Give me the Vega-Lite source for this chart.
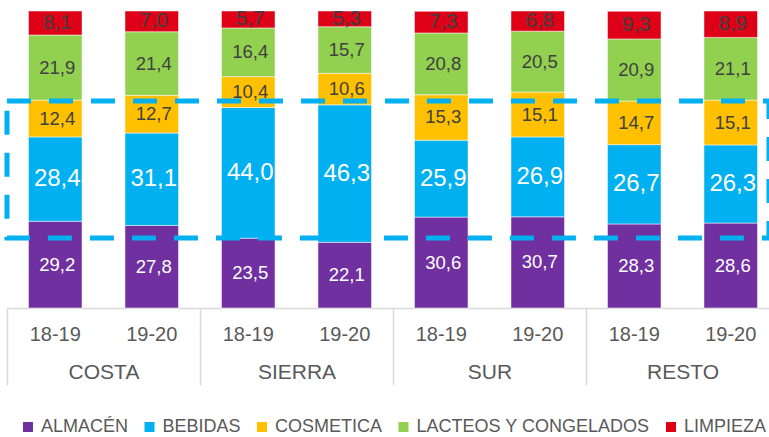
{
  "$schema": "https://vega.github.io/schema/vega-lite/v6.json",
  "width": 762,
  "height": 297,
  "autosize": {"type": "none"},
  "padding": {"left": 7, "top": 11, "right": 0, "bottom": 129},
  "background": "white",
  "config": {
    "view": {"stroke": null},
    "font": "Liberation Sans",
    "locale": {"number": {"decimal": ",", "thousands": ".", "grouping": [3], "currency": ["", " €"]}}
  },
  "datasets": {
    "d": [
      {"region": "COSTA", "period": "18-19", "key": "COSTA 18-19", "cat": "ALMACÉN", "v": 29.2},
      {"region": "COSTA", "period": "18-19", "key": "COSTA 18-19", "cat": "BEBIDAS", "v": 28.4},
      {"region": "COSTA", "period": "18-19", "key": "COSTA 18-19", "cat": "COSMETICA", "v": 12.4},
      {"region": "COSTA", "period": "18-19", "key": "COSTA 18-19", "cat": "LACTEOS Y CONGELADOS", "v": 21.9},
      {"region": "COSTA", "period": "18-19", "key": "COSTA 18-19", "cat": "LIMPIEZA", "v": 8.1},
      {"region": "COSTA", "period": "19-20", "key": "COSTA 19-20", "cat": "ALMACÉN", "v": 27.8},
      {"region": "COSTA", "period": "19-20", "key": "COSTA 19-20", "cat": "BEBIDAS", "v": 31.1},
      {"region": "COSTA", "period": "19-20", "key": "COSTA 19-20", "cat": "COSMETICA", "v": 12.7},
      {"region": "COSTA", "period": "19-20", "key": "COSTA 19-20", "cat": "LACTEOS Y CONGELADOS", "v": 21.4},
      {"region": "COSTA", "period": "19-20", "key": "COSTA 19-20", "cat": "LIMPIEZA", "v": 7.0},
      {"region": "SIERRA", "period": "18-19", "key": "SIERRA 18-19", "cat": "ALMACÉN", "v": 23.5},
      {"region": "SIERRA", "period": "18-19", "key": "SIERRA 18-19", "cat": "BEBIDAS", "v": 44.0},
      {"region": "SIERRA", "period": "18-19", "key": "SIERRA 18-19", "cat": "COSMETICA", "v": 10.4},
      {"region": "SIERRA", "period": "18-19", "key": "SIERRA 18-19", "cat": "LACTEOS Y CONGELADOS", "v": 16.4},
      {"region": "SIERRA", "period": "18-19", "key": "SIERRA 18-19", "cat": "LIMPIEZA", "v": 5.7},
      {"region": "SIERRA", "period": "19-20", "key": "SIERRA 19-20", "cat": "ALMACÉN", "v": 22.1},
      {"region": "SIERRA", "period": "19-20", "key": "SIERRA 19-20", "cat": "BEBIDAS", "v": 46.3},
      {"region": "SIERRA", "period": "19-20", "key": "SIERRA 19-20", "cat": "COSMETICA", "v": 10.6},
      {"region": "SIERRA", "period": "19-20", "key": "SIERRA 19-20", "cat": "LACTEOS Y CONGELADOS", "v": 15.7},
      {"region": "SIERRA", "period": "19-20", "key": "SIERRA 19-20", "cat": "LIMPIEZA", "v": 5.3},
      {"region": "SUR", "period": "18-19", "key": "SUR 18-19", "cat": "ALMACÉN", "v": 30.6},
      {"region": "SUR", "period": "18-19", "key": "SUR 18-19", "cat": "BEBIDAS", "v": 25.9},
      {"region": "SUR", "period": "18-19", "key": "SUR 18-19", "cat": "COSMETICA", "v": 15.3},
      {"region": "SUR", "period": "18-19", "key": "SUR 18-19", "cat": "LACTEOS Y CONGELADOS", "v": 20.8},
      {"region": "SUR", "period": "18-19", "key": "SUR 18-19", "cat": "LIMPIEZA", "v": 7.3},
      {"region": "SUR", "period": "19-20", "key": "SUR 19-20", "cat": "ALMACÉN", "v": 30.7},
      {"region": "SUR", "period": "19-20", "key": "SUR 19-20", "cat": "BEBIDAS", "v": 26.9},
      {"region": "SUR", "period": "19-20", "key": "SUR 19-20", "cat": "COSMETICA", "v": 15.1},
      {"region": "SUR", "period": "19-20", "key": "SUR 19-20", "cat": "LACTEOS Y CONGELADOS", "v": 20.5},
      {"region": "SUR", "period": "19-20", "key": "SUR 19-20", "cat": "LIMPIEZA", "v": 6.8},
      {"region": "RESTO", "period": "18-19", "key": "RESTO 18-19", "cat": "ALMACÉN", "v": 28.3},
      {"region": "RESTO", "period": "18-19", "key": "RESTO 18-19", "cat": "BEBIDAS", "v": 26.7},
      {"region": "RESTO", "period": "18-19", "key": "RESTO 18-19", "cat": "COSMETICA", "v": 14.7},
      {"region": "RESTO", "period": "18-19", "key": "RESTO 18-19", "cat": "LACTEOS Y CONGELADOS", "v": 20.9},
      {"region": "RESTO", "period": "18-19", "key": "RESTO 18-19", "cat": "LIMPIEZA", "v": 9.3},
      {"region": "RESTO", "period": "19-20", "key": "RESTO 19-20", "cat": "ALMACÉN", "v": 28.6},
      {"region": "RESTO", "period": "19-20", "key": "RESTO 19-20", "cat": "BEBIDAS", "v": 26.3},
      {"region": "RESTO", "period": "19-20", "key": "RESTO 19-20", "cat": "COSMETICA", "v": 15.1},
      {"region": "RESTO", "period": "19-20", "key": "RESTO 19-20", "cat": "LACTEOS Y CONGELADOS", "v": 21.1},
      {"region": "RESTO", "period": "19-20", "key": "RESTO 19-20", "cat": "LIMPIEZA", "v": 8.9}
    ],
    "box": [{"lo": 23.6, "hi": 69.7}]
  },
  "resolve": {"scale": {"x": "independent"}, "axis": {"x": "independent"}},
  "layer": [
    {
      "data": {"name": "d"},
      "encoding": {
        "x": {
          "field": "key",
          "type": "nominal",
          "sort": null,
          "scale": {"range": [0, 772], "paddingInner": 0.445, "paddingOuter": 0.2225},
          "axis": {
            "title": null,
            "orient": "bottom",
            "labelExpr": "split(datum.label, ' ')[1]",
            "labelAngle": 0,
            "labelFontSize": 20,
            "labelFont": "Liberation Sans",
            "labelColor": "#595959",
            "labelBaseline": "middle",
            "labelPadding": 26,
            "ticks": false,
            "domainColor": "#d9d9d9",
            "domainWidth": 1.5
          }
        },
        "order": {"field": "cat", "type": "nominal", "sort": "ascending"}
      },
      "layer": [
        {
          "mark": {"type": "bar", "stroke": "#ffffff", "strokeWidth": 0.5},
          "encoding": {
            "y": {"field": "v", "type": "quantitative", "stack": "zero", "scale": {"domain": [0, 100]}, "axis": null},
            "color": {
              "field": "cat",
              "type": "nominal",
              "scale": {
                "domain": ["ALMACÉN", "BEBIDAS", "COSMETICA", "LACTEOS Y CONGELADOS", "LIMPIEZA"],
                "range": ["#7030A0", "#00B0F0", "#FFC000", "#92D050", "#DD0017"]
              },
              "legend": {
                "orient": "none",
                "legendX": 12,
                "legendY": 407,
                "direction": "horizontal",
                "title": null,
                "symbolType": "square",
                "symbolSize": 100,
                "symbolStrokeWidth": 0,
                "symbolOpacity": 1,
                "labelFontSize": 18,
                "labelFont": "Liberation Sans",
                "labelColor": "#595959",
                "labelOffset": 4,
                "columnPadding": 11.5,
                "padding": 0,
                "labelLimit": 400
              }
            }
          }
        },
        {
          "mark": {"type": "text", "baseline": "middle", "align": "center", "dx": 2, "font": "Liberation Sans"},
          "encoding": {
            "y": {"field": "v", "type": "quantitative", "stack": "zero", "bandPosition": 0.5, "axis": null},
            "detail": {"field": "cat", "type": "nominal"},
            "text": {"field": "v", "type": "quantitative", "format": ".1f"},
            "fill": {
              "condition": {"test": "datum.cat === 'ALMACÉN' || datum.cat === 'BEBIDAS'", "value": "#ffffff"},
              "value": "#404040"
            },
            "size": {
              "condition": [
                {"test": "datum.cat === 'BEBIDAS'", "value": 24},
                {"test": "datum.cat === 'LIMPIEZA'", "value": 20.5}
              ],
              "value": 18.5
            }
          }
        }
      ]
    },
    {
      "data": {"name": "box"},
      "mark": {"type": "rect", "fill": "transparent", "stroke": "#00B0F0", "strokeWidth": 5, "strokeDash": [24, 18]},
      "encoding": {
        "y": {"field": "lo", "type": "quantitative", "axis": null},
        "y2": {"field": "hi"}
      }
    },
    {
      "data": {"name": "d"},
      "mark": {"type": "rule", "opacity": 0},
      "encoding": {
        "x": {
          "field": "region",
          "type": "nominal",
          "sort": null,
          "scale": {"range": [0, 772], "paddingInner": 0, "paddingOuter": 0},
          "axis": {
            "title": null,
            "orient": "bottom",
            "labelAngle": 0,
            "labelFontSize": 21,
            "labelFont": "Liberation Sans",
            "labelColor": "#595959",
            "labelBaseline": "middle",
            "labelPadding": -13,
            "ticks": true,
            "tickBand": "extent",
            "tickSize": 77,
            "tickColor": "#d9d9d9",
            "tickWidth": 1.5,
            "domain": false
          }
        }
      }
    }
  ]
}
